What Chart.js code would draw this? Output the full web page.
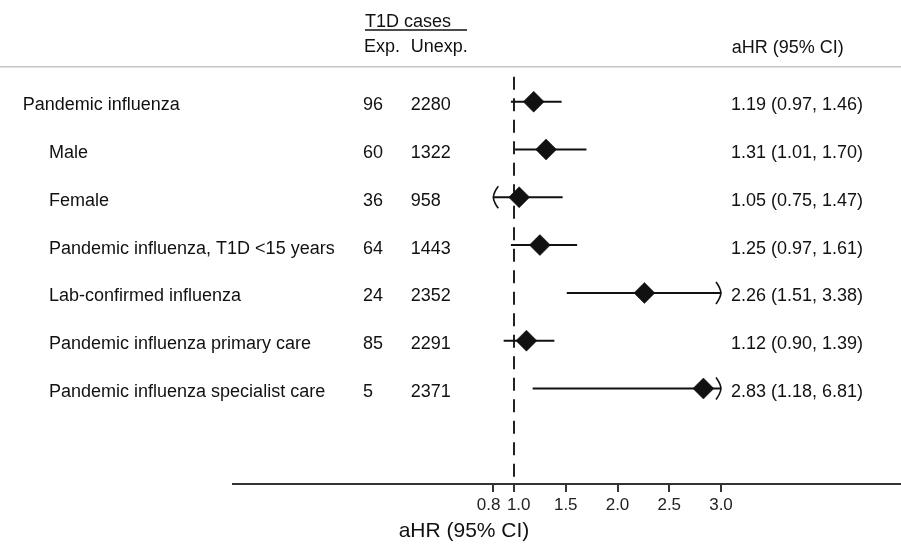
<!DOCTYPE html>
<html>
<head>
<meta charset="utf-8">
<script src="https://cdn.jsdelivr.net/npm/chart.js@4.4.0/dist/chart.umd.min.js"></script>
<style>
  html, body { margin: 0; padding: 0; background: #fff; }
  #wrap { width: 901px; height: 546px; }
</style>
</head>
<body>
<div id="wrap"><canvas id="c" width="901" height="546"></canvas></div>
<script>
// ---------- data ----------
const labels = [
  'Pandemic influenza',
  'Male',
  'Female',
  'Pandemic influenza, T1D <15 years',
  'Lab-confirmed influenza',
  'Pandemic influenza primary care',
  'Pandemic influenza specialist care'
];
const indented   = [false, true, true, true, true, true, true];
const expCases   = [96, 60, 36, 64, 24, 85, 5];
const unexpCases = [2280, 1322, 958, 1443, 2352, 2291, 2371];
const hr    = [1.19, 1.31, 1.05, 1.25, 2.26, 1.12, 2.83];
const lower = [0.97, 1.01, 0.75, 0.97, 1.51, 0.90, 1.18];
const upper = [1.46, 1.70, 1.47, 1.61, 3.38, 1.39, 6.81];
const tickValues = [0.8, 1.0, 1.5, 2.0, 2.5, 3.0];
const tickLabels = ['0.8', '1.0', '1.5', '2.0', '2.5', '3.0'];
const refValue = 1.0;
const axisTitle = 'aHR (95% CI)';
const headerCases = 'T1D cases';
const headerExp = 'Exp.';
const headerUnexp = 'Unexp.';
const headerHR = 'aHR (95% CI)';

// ---------- layout ----------
const W = 901, H = 546;
const LEFT = 233;          // start of axis line
const REF_PIX = 514;       // pixel of x = 1.0
const PX_PER_UNIT = 103.5;
const ROW0 = 101.7, STEP = 47.8;
const TOP = 60, AXIS_Y = 484;
const DASH_TOP = 76.7;

const axisLo = tickValues[0];
const axisHi = tickValues[tickValues.length - 1];
const clip = v => Math.min(axisHi, Math.max(axisLo, v));

const xMin = refValue - (REF_PIX - LEFT) / PX_PER_UNIT;
const xMax = refValue + (W - REF_PIX) / PX_PER_UNIT;
const yMin = (TOP - ROW0) / STEP;
const yMax = (AXIS_Y - ROW0) / STEP;

const FONT = '"Liberation Sans", Arial, Helvetica, sans-serif';
const INK = '#111';

const ciDatasets = labels.map((_, i) => ({
  type: 'line',
  order: 1,
  data: [{ x: clip(lower[i]), y: i }, { x: clip(upper[i]), y: i }],
  borderColor: INK,
  borderWidth: 2,
  pointRadius: 0,
  fill: false
}));

const textPlugin = {
  id: 'forestText',
  afterDatasetsDraw(chart) {
    const ctx = chart.ctx;
    const xs = chart.scales.x, ys = chart.scales.y;
    ctx.save();
    ctx.strokeStyle = INK;
    ctx.lineWidth = 1.6;
    labels.forEach((_, i) => {
      const y = ys.getPixelForValue(i);
      if (lower[i] < axisLo) {
        const x = xs.getPixelForValue(axisLo);
        ctx.beginPath();
        ctx.moveTo(x + 5, y - 11);
        ctx.quadraticCurveTo(x + 0.5, y - 5, x, y);
        ctx.quadraticCurveTo(x + 0.5, y + 5, x + 5, y + 11);
        ctx.stroke();
      }
      if (upper[i] > axisHi) {
        const x = xs.getPixelForValue(axisHi);
        ctx.beginPath();
        ctx.moveTo(x - 5, y - 11);
        ctx.quadraticCurveTo(x - 0.5, y - 5, x, y);
        ctx.quadraticCurveTo(x - 0.5, y + 5, x - 5, y + 11);
        ctx.stroke();
      }
    });
    ctx.restore();
  },
  afterDraw(chart) {
    const ctx = chart.ctx;
    const ys = chart.scales.y;
    ctx.save();
    ctx.fillStyle = INK;
    ctx.textBaseline = 'alphabetic';
    ctx.textAlign = 'left';
    ctx.font = '18px ' + FONT;

    // header
    ctx.fillText(headerCases, 365, 26.5);
    ctx.fillText(headerExp, 364, 52);
    ctx.fillText(headerUnexp, 410.7, 52);
    ctx.fillText(headerHR, 731.7, 52.5);
    ctx.strokeStyle = INK;
    ctx.lineWidth = 1.3;
    ctx.beginPath();
    ctx.moveTo(365, 30); ctx.lineTo(467, 30);
    ctx.stroke();
    ctx.strokeStyle = '#c4c4c4';
    ctx.lineWidth = 1.5;
    ctx.beginPath();
    ctx.moveTo(0, 66.7); ctx.lineTo(W, 66.7);
    ctx.stroke();

    // rows
    labels.forEach((lab, i) => {
      const y = ys.getPixelForValue(i) + 8.5;
      ctx.fillText(lab, indented[i] ? 49 : 22.7, y);
      ctx.fillText(String(expCases[i]), 363, y);
      ctx.fillText(String(unexpCases[i]), 410.7, y);
      ctx.fillText(hr[i].toFixed(2) + ' (' + lower[i].toFixed(2) + ', ' + upper[i].toFixed(2) + ')', 731, y);
    });

    // axis title
    ctx.font = '21px ' + FONT;
    ctx.textAlign = 'center';
    ctx.fillText(axisTitle, 464, 537);
    ctx.restore();
  }
};

new Chart(document.getElementById('c'), {
  data: {
    datasets: [
      {
        type: 'scatter',
        order: 0,
        data: hr.map((v, i) => ({ x: v, y: i })),
        pointStyle: 'rectRot',
        pointRadius: 10.5,
        backgroundColor: INK,
        borderColor: INK,
        borderWidth: 0.5
      },
      ...ciDatasets,
      {
        type: 'line',
        order: 2,
        data: [{ x: refValue, y: (DASH_TOP - ROW0) / STEP }, { x: refValue, y: yMax }],
        borderColor: '#222',
        borderWidth: 2,
        borderDash: [13, 8.5],
        pointRadius: 0,
        fill: false
      }
    ]
  },
  options: {
    responsive: false,
    animation: false,
    events: [],
    layout: { autoPadding: false, padding: { left: LEFT, right: 0, top: TOP, bottom: 0 } },
    plugins: { legend: { display: false }, tooltip: { enabled: false }, title: { display: false } },
    scales: {
      x: {
        type: 'linear',
        min: xMin,
        max: xMax,
        afterBuildTicks: s => { s.ticks = tickValues.map(v => ({ value: v })); },
        afterFit: s => { s.height = H - AXIS_Y; s.paddingLeft = 0; s.paddingRight = 0; },
        ticks: {
          autoSkip: false,
          maxRotation: 0,
          padding: 3,
          color: '#222',
          font: { family: FONT, size: 17 },
          callback: (v, i) => (i === 0 ? tickLabels[i] + '  ' : i === 1 ? '  ' + tickLabels[i] : tickLabels[i])
        },
        grid: {
          display: true,
          drawOnChartArea: false,
          drawTicks: true,
          tickLength: 8,
          color: '#333',
          lineWidth: 2
        },
        border: { display: true, color: '#333', width: 2 }
      },
      y: {
        type: 'linear',
        display: false,
        reverse: true,
        min: yMin,
        max: yMax
      }
    }
  },
  plugins: [textPlugin]
});
</script>
</body>
</html>
